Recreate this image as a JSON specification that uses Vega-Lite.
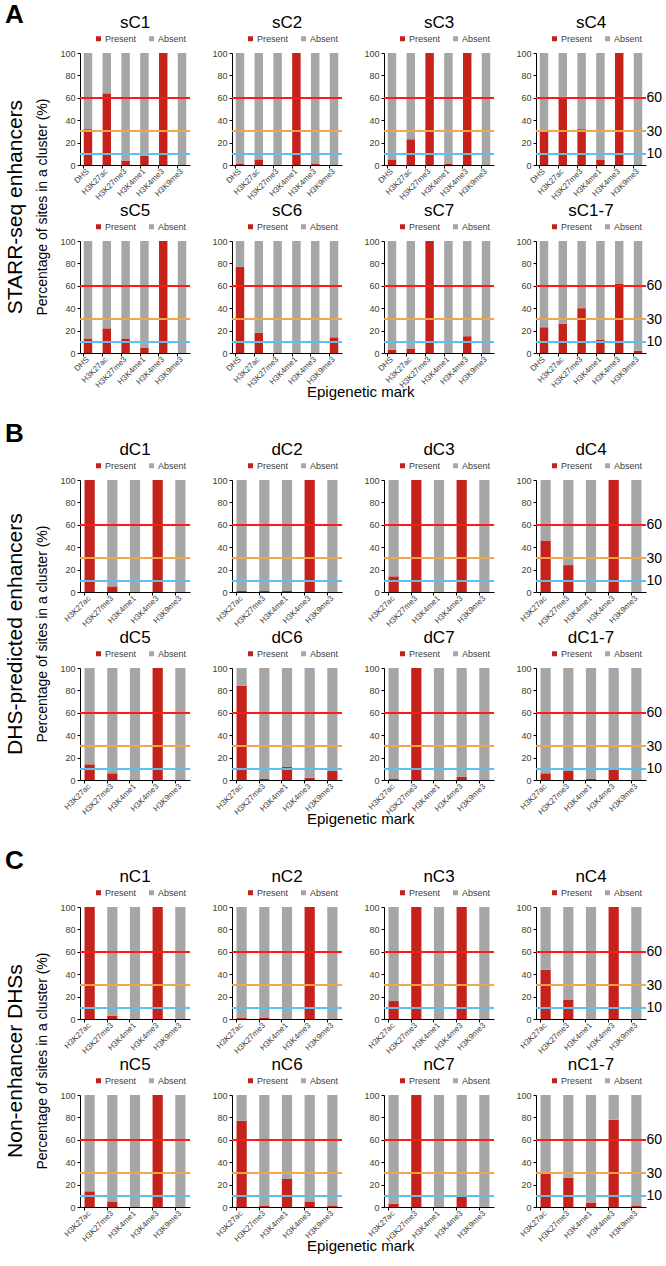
{
"$schema":"https://vega.github.io/schema/vega-lite/v6.json",
"padding":{"left":4,"top":2,"right":0,"bottom":2},
"background":"white",
"config":{
 "font":"Liberation Sans",
 "view":{"stroke":null},
 "axis":{"grid":false,"domainColor":"#000","tickColor":"#000","labelFont":"Liberation Sans","labelColor":"#404040","labelFontSize":9,"tickSize":3,"labelPadding":2,"labelOverlap":false},
 "axisX":{"labelAngle":-45,"labelFontSize":8,"bandPosition":0,"labelAlign":"right","labelBaseline":"middle"},
 "legend":{"symbolType":"square","symbolSize":25,"labelFontSize":9,"labelColor":"#404040","columnPadding":10,"labelOffset":2,"padding":0,"symbolStrokeWidth":0},
 "title":{"font":"Liberation Sans","fontSize":17,"fontWeight":"normal","color":"#000","offset":2,"anchor":"middle"},
 "scale":{"bandPaddingInner":0.55,"bandPaddingOuter":0.2},
 "concat":{"spacing":20}
},
"datasets":{
 "A":[
 {"c":"sC1","m":"DHS","Present":32,"Absent":68},{"c":"sC1","m":"H3K27ac","Present":64,"Absent":36},{"c":"sC1","m":"H3K27me3","Present":4,"Absent":96},{"c":"sC1","m":"H3K4me1","Present":8,"Absent":92},{"c":"sC1","m":"H3K4me3","Present":100,"Absent":0},{"c":"sC1","m":"H3K9me3","Present":0,"Absent":100},
 {"c":"sC2","m":"DHS","Present":1,"Absent":99},{"c":"sC2","m":"H3K27ac","Present":5,"Absent":95},{"c":"sC2","m":"H3K27me3","Present":0,"Absent":100},{"c":"sC2","m":"H3K4me1","Present":100,"Absent":0},{"c":"sC2","m":"H3K4me3","Present":1,"Absent":99},{"c":"sC2","m":"H3K9me3","Present":0,"Absent":100},
 {"c":"sC3","m":"DHS","Present":5,"Absent":95},{"c":"sC3","m":"H3K27ac","Present":23,"Absent":77},{"c":"sC3","m":"H3K27me3","Present":100,"Absent":0},{"c":"sC3","m":"H3K4me1","Present":1,"Absent":99},{"c":"sC3","m":"H3K4me3","Present":100,"Absent":0},{"c":"sC3","m":"H3K9me3","Present":0,"Absent":100},
 {"c":"sC4","m":"DHS","Present":31,"Absent":69},{"c":"sC4","m":"H3K27ac","Present":61,"Absent":39},{"c":"sC4","m":"H3K27me3","Present":32,"Absent":68},{"c":"sC4","m":"H3K4me1","Present":5,"Absent":95},{"c":"sC4","m":"H3K4me3","Present":100,"Absent":0},{"c":"sC4","m":"H3K9me3","Present":0,"Absent":100},
 {"c":"sC5","m":"DHS","Present":13,"Absent":87},{"c":"sC5","m":"H3K27ac","Present":22,"Absent":78},{"c":"sC5","m":"H3K27me3","Present":13,"Absent":87},{"c":"sC5","m":"H3K4me1","Present":5,"Absent":95},{"c":"sC5","m":"H3K4me3","Present":100,"Absent":0},{"c":"sC5","m":"H3K9me3","Present":0,"Absent":100},
 {"c":"sC6","m":"DHS","Present":77,"Absent":23},{"c":"sC6","m":"H3K27ac","Present":18,"Absent":82},{"c":"sC6","m":"H3K27me3","Present":0,"Absent":100},{"c":"sC6","m":"H3K4me1","Present":0,"Absent":100},{"c":"sC6","m":"H3K4me3","Present":0,"Absent":100},{"c":"sC6","m":"H3K9me3","Present":14,"Absent":86},
 {"c":"sC7","m":"DHS","Present":3,"Absent":97},{"c":"sC7","m":"H3K27ac","Present":4,"Absent":96},{"c":"sC7","m":"H3K27me3","Present":100,"Absent":0},{"c":"sC7","m":"H3K4me1","Present":0,"Absent":100},{"c":"sC7","m":"H3K4me3","Present":15,"Absent":85},{"c":"sC7","m":"H3K9me3","Present":0,"Absent":100},
 {"c":"sC1-7","m":"DHS","Present":23,"Absent":77},{"c":"sC1-7","m":"H3K27ac","Present":26,"Absent":74},{"c":"sC1-7","m":"H3K27me3","Present":40,"Absent":60},{"c":"sC1-7","m":"H3K4me1","Present":12,"Absent":88},{"c":"sC1-7","m":"H3K4me3","Present":62,"Absent":38},{"c":"sC1-7","m":"H3K9me3","Present":2,"Absent":98}
 ],
 "B":[
 {"c":"dC1","m":"H3K27ac","Present":100,"Absent":0},{"c":"dC1","m":"H3K27me3","Present":5,"Absent":95},{"c":"dC1","m":"H3K4me1","Present":0,"Absent":100},{"c":"dC1","m":"H3K4me3","Present":100,"Absent":0},{"c":"dC1","m":"H3K9me3","Present":0,"Absent":100},
 {"c":"dC2","m":"H3K27ac","Present":1,"Absent":99},{"c":"dC2","m":"H3K27me3","Present":1,"Absent":99},{"c":"dC2","m":"H3K4me1","Present":1,"Absent":99},{"c":"dC2","m":"H3K4me3","Present":100,"Absent":0},{"c":"dC2","m":"H3K9me3","Present":0,"Absent":100},
 {"c":"dC3","m":"H3K27ac","Present":14,"Absent":86},{"c":"dC3","m":"H3K27me3","Present":100,"Absent":0},{"c":"dC3","m":"H3K4me1","Present":0,"Absent":100},{"c":"dC3","m":"H3K4me3","Present":100,"Absent":0},{"c":"dC3","m":"H3K9me3","Present":0,"Absent":100},
 {"c":"dC4","m":"H3K27ac","Present":46,"Absent":54},{"c":"dC4","m":"H3K27me3","Present":24,"Absent":76},{"c":"dC4","m":"H3K4me1","Present":0,"Absent":100},{"c":"dC4","m":"H3K4me3","Present":100,"Absent":0},{"c":"dC4","m":"H3K9me3","Present":0,"Absent":100},
 {"c":"dC5","m":"H3K27ac","Present":14,"Absent":86},{"c":"dC5","m":"H3K27me3","Present":6,"Absent":94},{"c":"dC5","m":"H3K4me1","Present":0,"Absent":100},{"c":"dC5","m":"H3K4me3","Present":100,"Absent":0},{"c":"dC5","m":"H3K9me3","Present":0,"Absent":100},
 {"c":"dC6","m":"H3K27ac","Present":84,"Absent":16},{"c":"dC6","m":"H3K27me3","Present":1,"Absent":99},{"c":"dC6","m":"H3K4me1","Present":12,"Absent":88},{"c":"dC6","m":"H3K4me3","Present":2,"Absent":98},{"c":"dC6","m":"H3K9me3","Present":8,"Absent":92},
 {"c":"dC7","m":"H3K27ac","Present":1,"Absent":99},{"c":"dC7","m":"H3K27me3","Present":100,"Absent":0},{"c":"dC7","m":"H3K4me1","Present":0,"Absent":100},{"c":"dC7","m":"H3K4me3","Present":3,"Absent":97},{"c":"dC7","m":"H3K9me3","Present":0,"Absent":100},
 {"c":"dC1-7","m":"H3K27ac","Present":6,"Absent":94},{"c":"dC1-7","m":"H3K27me3","Present":8,"Absent":92},{"c":"dC1-7","m":"H3K4me1","Present":1,"Absent":99},{"c":"dC1-7","m":"H3K4me3","Present":9,"Absent":91},{"c":"dC1-7","m":"H3K9me3","Present":0,"Absent":100}
 ],
 "C":[
 {"c":"nC1","m":"H3K27ac","Present":100,"Absent":0},{"c":"nC1","m":"H3K27me3","Present":3,"Absent":97},{"c":"nC1","m":"H3K4me1","Present":0,"Absent":100},{"c":"nC1","m":"H3K4me3","Present":100,"Absent":0},{"c":"nC1","m":"H3K9me3","Present":0,"Absent":100},
 {"c":"nC2","m":"H3K27ac","Present":1,"Absent":99},{"c":"nC2","m":"H3K27me3","Present":1,"Absent":99},{"c":"nC2","m":"H3K4me1","Present":0,"Absent":100},{"c":"nC2","m":"H3K4me3","Present":100,"Absent":0},{"c":"nC2","m":"H3K9me3","Present":0,"Absent":100},
 {"c":"nC3","m":"H3K27ac","Present":16,"Absent":84},{"c":"nC3","m":"H3K27me3","Present":100,"Absent":0},{"c":"nC3","m":"H3K4me1","Present":0,"Absent":100},{"c":"nC3","m":"H3K4me3","Present":100,"Absent":0},{"c":"nC3","m":"H3K9me3","Present":0,"Absent":100},
 {"c":"nC4","m":"H3K27ac","Present":44,"Absent":56},{"c":"nC4","m":"H3K27me3","Present":17,"Absent":83},{"c":"nC4","m":"H3K4me1","Present":0,"Absent":100},{"c":"nC4","m":"H3K4me3","Present":100,"Absent":0},{"c":"nC4","m":"H3K9me3","Present":0,"Absent":100},
 {"c":"nC5","m":"H3K27ac","Present":14,"Absent":86},{"c":"nC5","m":"H3K27me3","Present":5,"Absent":95},{"c":"nC5","m":"H3K4me1","Present":0,"Absent":100},{"c":"nC5","m":"H3K4me3","Present":100,"Absent":0},{"c":"nC5","m":"H3K9me3","Present":0,"Absent":100},
 {"c":"nC6","m":"H3K27ac","Present":77,"Absent":23},{"c":"nC6","m":"H3K27me3","Present":1,"Absent":99},{"c":"nC6","m":"H3K4me1","Present":25,"Absent":75},{"c":"nC6","m":"H3K4me3","Present":5,"Absent":95},{"c":"nC6","m":"H3K9me3","Present":1,"Absent":99},
 {"c":"nC7","m":"H3K27ac","Present":3,"Absent":97},{"c":"nC7","m":"H3K27me3","Present":100,"Absent":0},{"c":"nC7","m":"H3K4me1","Present":0,"Absent":100},{"c":"nC7","m":"H3K4me3","Present":10,"Absent":90},{"c":"nC7","m":"H3K9me3","Present":0,"Absent":100},
 {"c":"nC1-7","m":"H3K27ac","Present":31,"Absent":69},{"c":"nC1-7","m":"H3K27me3","Present":26,"Absent":74},{"c":"nC1-7","m":"H3K4me1","Present":4,"Absent":96},{"c":"nC1-7","m":"H3K4me3","Present":78,"Absent":22},{"c":"nC1-7","m":"H3K9me3","Present":1,"Absent":99}
 ]
},
"vconcat":[
{"title":{"text":"A","orient":"top","anchor":"start","frame":"bounds","fontSize":26,"fontWeight":"bold","offset":-14},
 "resolve":{"scale":{"color":"independent"}},
 "vconcat":[{"title":{"text":"STARR-seq enhancers","orient":"left","anchor":"middle","fontSize":21,"offset":10},
  "resolve":{"scale":{"color":"independent"}},
  "vconcat":[{"title":{"text":"Percentage of sites in a cluster (%)","orient":"left","anchor":"middle","fontSize":14,"offset":10},
   "resolve":{"scale":{"color":"independent"}},
   "vconcat":[{"title":{"text":"Epigenetic mark","orient":"bottom","anchor":"middle","fontSize":15,"offset":-4},
    "resolve":{"scale":{"color":"independent"}},"spacing":0,
    "vconcat":[
     {"resolve":{"scale":{"color":"independent"}},"hconcat":[
      {"title":"sC1","width":110,"height":112,"data":{"name":"A"},"transform":[{"filter":"datum.c==='sC1'"},{"fold":["Present","Absent"],"as":["status","pct"]}],"resolve":{"scale":{"y":"independent"}},"layer":[
       {"mark":{"type":"bar"},"encoding":{"x":{"field":"m","type":"nominal","title":null},"y":{"field":"pct","type":"quantitative","title":null,"scale":{"domain":[0,100]},"axis":{"values":[0,20,40,60,80,100]}},"color":{"field":"status","type":"nominal","sort":["Present","Absent"],"scale":{"domain":["Present","Absent"],"range":["#C4221B","#A6A6A6"]},"title":null,"legend":{"orient":"none","legendX":14,"legendY":-19,"direction":"horizontal"}}}},
       {"mark":{"type":"rule","color":"#FF1A1A","strokeWidth":1.5},"encoding":{"y":{"datum":60,"scale":{"domain":[0,100]},"axis":null}}},
       {"mark":{"type":"rule","color":"#F2A54A","strokeWidth":1.2},"encoding":{"y":{"datum":30,"scale":{"domain":[0,100]},"axis":null}}},
       {"mark":{"type":"rule","color":"#5EC0EC","strokeWidth":1.2},"encoding":{"y":{"datum":10,"scale":{"domain":[0,100]},"axis":null}}}]},
      {"title":"sC2","width":110,"height":112,"data":{"name":"A"},"transform":[{"filter":"datum.c==='sC2'"},{"fold":["Present","Absent"],"as":["status","pct"]}],"resolve":{"scale":{"y":"independent"}},"layer":[
       {"mark":{"type":"bar"},"encoding":{"x":{"field":"m","type":"nominal","title":null},"y":{"field":"pct","type":"quantitative","title":null,"scale":{"domain":[0,100]},"axis":{"values":[0,20,40,60,80,100]}},"color":{"field":"status","type":"nominal","sort":["Present","Absent"],"scale":{"domain":["Present","Absent"],"range":["#C4221B","#A6A6A6"]},"title":null,"legend":{"orient":"none","legendX":14,"legendY":-19,"direction":"horizontal"}}}},
       {"mark":{"type":"rule","color":"#FF1A1A","strokeWidth":1.5},"encoding":{"y":{"datum":60,"scale":{"domain":[0,100]},"axis":null}}},
       {"mark":{"type":"rule","color":"#F2A54A","strokeWidth":1.2},"encoding":{"y":{"datum":30,"scale":{"domain":[0,100]},"axis":null}}},
       {"mark":{"type":"rule","color":"#5EC0EC","strokeWidth":1.2},"encoding":{"y":{"datum":10,"scale":{"domain":[0,100]},"axis":null}}}]},
      {"title":"sC3","width":110,"height":112,"data":{"name":"A"},"transform":[{"filter":"datum.c==='sC3'"},{"fold":["Present","Absent"],"as":["status","pct"]}],"resolve":{"scale":{"y":"independent"}},"layer":[
       {"mark":{"type":"bar"},"encoding":{"x":{"field":"m","type":"nominal","title":null},"y":{"field":"pct","type":"quantitative","title":null,"scale":{"domain":[0,100]},"axis":{"values":[0,20,40,60,80,100]}},"color":{"field":"status","type":"nominal","sort":["Present","Absent"],"scale":{"domain":["Present","Absent"],"range":["#C4221B","#A6A6A6"]},"title":null,"legend":{"orient":"none","legendX":14,"legendY":-19,"direction":"horizontal"}}}},
       {"mark":{"type":"rule","color":"#FF1A1A","strokeWidth":1.5},"encoding":{"y":{"datum":60,"scale":{"domain":[0,100]},"axis":null}}},
       {"mark":{"type":"rule","color":"#F2A54A","strokeWidth":1.2},"encoding":{"y":{"datum":30,"scale":{"domain":[0,100]},"axis":null}}},
       {"mark":{"type":"rule","color":"#5EC0EC","strokeWidth":1.2},"encoding":{"y":{"datum":10,"scale":{"domain":[0,100]},"axis":null}}}]},
      {"title":"sC4","width":110,"height":112,"data":{"name":"A"},"transform":[{"filter":"datum.c==='sC4'"},{"fold":["Present","Absent"],"as":["status","pct"]}],"resolve":{"scale":{"y":"independent"}},"layer":[
       {"mark":{"type":"bar"},"encoding":{"x":{"field":"m","type":"nominal","title":null},"y":{"field":"pct","type":"quantitative","title":null,"scale":{"domain":[0,100]},"axis":{"values":[0,20,40,60,80,100]}},"color":{"field":"status","type":"nominal","sort":["Present","Absent"],"scale":{"domain":["Present","Absent"],"range":["#C4221B","#A6A6A6"]},"title":null,"legend":{"orient":"none","legendX":14,"legendY":-19,"direction":"horizontal"}}}},
       {"mark":{"type":"rule","color":"#FF1A1A","strokeWidth":1.5},"encoding":{"y":{"datum":60,"scale":{"domain":[0,100]},"axis":{"orient":"right","values":[10,30,60],"domain":false,"ticks":false,"labelFontSize":14,"labelColor":"#000","labelPadding":0}}}},
       {"mark":{"type":"rule","color":"#F2A54A","strokeWidth":1.2},"encoding":{"y":{"datum":30,"scale":{"domain":[0,100]},"axis":null}}},
       {"mark":{"type":"rule","color":"#5EC0EC","strokeWidth":1.2},"encoding":{"y":{"datum":10,"scale":{"domain":[0,100]},"axis":null}}}]}
     ]},
     {"resolve":{"scale":{"color":"independent"}},"hconcat":[
      {"title":"sC5","width":110,"height":112,"data":{"name":"A"},"transform":[{"filter":"datum.c==='sC5'"},{"fold":["Present","Absent"],"as":["status","pct"]}],"resolve":{"scale":{"y":"independent"}},"layer":[
       {"mark":{"type":"bar"},"encoding":{"x":{"field":"m","type":"nominal","title":null},"y":{"field":"pct","type":"quantitative","title":null,"scale":{"domain":[0,100]},"axis":{"values":[0,20,40,60,80,100]}},"color":{"field":"status","type":"nominal","sort":["Present","Absent"],"scale":{"domain":["Present","Absent"],"range":["#C4221B","#A6A6A6"]},"title":null,"legend":{"orient":"none","legendX":14,"legendY":-19,"direction":"horizontal"}}}},
       {"mark":{"type":"rule","color":"#FF1A1A","strokeWidth":1.5},"encoding":{"y":{"datum":60,"scale":{"domain":[0,100]},"axis":null}}},
       {"mark":{"type":"rule","color":"#F2A54A","strokeWidth":1.2},"encoding":{"y":{"datum":30,"scale":{"domain":[0,100]},"axis":null}}},
       {"mark":{"type":"rule","color":"#5EC0EC","strokeWidth":1.2},"encoding":{"y":{"datum":10,"scale":{"domain":[0,100]},"axis":null}}}]},
      {"title":"sC6","width":110,"height":112,"data":{"name":"A"},"transform":[{"filter":"datum.c==='sC6'"},{"fold":["Present","Absent"],"as":["status","pct"]}],"resolve":{"scale":{"y":"independent"}},"layer":[
       {"mark":{"type":"bar"},"encoding":{"x":{"field":"m","type":"nominal","title":null},"y":{"field":"pct","type":"quantitative","title":null,"scale":{"domain":[0,100]},"axis":{"values":[0,20,40,60,80,100]}},"color":{"field":"status","type":"nominal","sort":["Present","Absent"],"scale":{"domain":["Present","Absent"],"range":["#C4221B","#A6A6A6"]},"title":null,"legend":{"orient":"none","legendX":14,"legendY":-19,"direction":"horizontal"}}}},
       {"mark":{"type":"rule","color":"#FF1A1A","strokeWidth":1.5},"encoding":{"y":{"datum":60,"scale":{"domain":[0,100]},"axis":null}}},
       {"mark":{"type":"rule","color":"#F2A54A","strokeWidth":1.2},"encoding":{"y":{"datum":30,"scale":{"domain":[0,100]},"axis":null}}},
       {"mark":{"type":"rule","color":"#5EC0EC","strokeWidth":1.2},"encoding":{"y":{"datum":10,"scale":{"domain":[0,100]},"axis":null}}}]},
      {"title":"sC7","width":110,"height":112,"data":{"name":"A"},"transform":[{"filter":"datum.c==='sC7'"},{"fold":["Present","Absent"],"as":["status","pct"]}],"resolve":{"scale":{"y":"independent"}},"layer":[
       {"mark":{"type":"bar"},"encoding":{"x":{"field":"m","type":"nominal","title":null},"y":{"field":"pct","type":"quantitative","title":null,"scale":{"domain":[0,100]},"axis":{"values":[0,20,40,60,80,100]}},"color":{"field":"status","type":"nominal","sort":["Present","Absent"],"scale":{"domain":["Present","Absent"],"range":["#C4221B","#A6A6A6"]},"title":null,"legend":{"orient":"none","legendX":14,"legendY":-19,"direction":"horizontal"}}}},
       {"mark":{"type":"rule","color":"#FF1A1A","strokeWidth":1.5},"encoding":{"y":{"datum":60,"scale":{"domain":[0,100]},"axis":null}}},
       {"mark":{"type":"rule","color":"#F2A54A","strokeWidth":1.2},"encoding":{"y":{"datum":30,"scale":{"domain":[0,100]},"axis":null}}},
       {"mark":{"type":"rule","color":"#5EC0EC","strokeWidth":1.2},"encoding":{"y":{"datum":10,"scale":{"domain":[0,100]},"axis":null}}}]},
      {"title":"sC1-7","width":110,"height":112,"data":{"name":"A"},"transform":[{"filter":"datum.c==='sC1-7'"},{"fold":["Present","Absent"],"as":["status","pct"]}],"resolve":{"scale":{"y":"independent"}},"layer":[
       {"mark":{"type":"bar"},"encoding":{"x":{"field":"m","type":"nominal","title":null},"y":{"field":"pct","type":"quantitative","title":null,"scale":{"domain":[0,100]},"axis":{"values":[0,20,40,60,80,100]}},"color":{"field":"status","type":"nominal","sort":["Present","Absent"],"scale":{"domain":["Present","Absent"],"range":["#C4221B","#A6A6A6"]},"title":null,"legend":{"orient":"none","legendX":14,"legendY":-19,"direction":"horizontal"}}}},
       {"mark":{"type":"rule","color":"#FF1A1A","strokeWidth":1.5},"encoding":{"y":{"datum":60,"scale":{"domain":[0,100]},"axis":{"orient":"right","values":[10,30,60],"domain":false,"ticks":false,"labelFontSize":14,"labelColor":"#000","labelPadding":0}}}},
       {"mark":{"type":"rule","color":"#F2A54A","strokeWidth":1.2},"encoding":{"y":{"datum":30,"scale":{"domain":[0,100]},"axis":null}}},
       {"mark":{"type":"rule","color":"#5EC0EC","strokeWidth":1.2},"encoding":{"y":{"datum":10,"scale":{"domain":[0,100]},"axis":null}}}]}
     ]}
    ]}]}]}]},
{"title":{"text":"B","orient":"top","anchor":"start","frame":"bounds","fontSize":26,"fontWeight":"bold","offset":-6},
 "resolve":{"scale":{"color":"independent"}},
 "vconcat":[{"title":{"text":"DHS-predicted enhancers","orient":"left","anchor":"middle","fontSize":21,"offset":10},
  "resolve":{"scale":{"color":"independent"}},
  "vconcat":[{"title":{"text":"Percentage of sites in a cluster (%)","orient":"left","anchor":"middle","fontSize":14,"offset":10},
   "resolve":{"scale":{"color":"independent"}},
   "vconcat":[{"title":{"text":"Epigenetic mark","orient":"bottom","anchor":"middle","fontSize":15,"offset":-4},
    "resolve":{"scale":{"color":"independent"}},"spacing":0,
    "vconcat":[
     {"resolve":{"scale":{"color":"independent"}},"hconcat":[
      {"title":"dC1","width":110,"height":112,"data":{"name":"B"},"transform":[{"filter":"datum.c==='dC1'"},{"fold":["Present","Absent"],"as":["status","pct"]}],"resolve":{"scale":{"y":"independent"}},"layer":[
       {"mark":{"type":"bar"},"encoding":{"x":{"field":"m","type":"nominal","title":null},"y":{"field":"pct","type":"quantitative","title":null,"scale":{"domain":[0,100]},"axis":{"values":[0,20,40,60,80,100]}},"color":{"field":"status","type":"nominal","sort":["Present","Absent"],"scale":{"domain":["Present","Absent"],"range":["#C4221B","#A6A6A6"]},"title":null,"legend":{"orient":"none","legendX":14,"legendY":-19,"direction":"horizontal"}}}},
       {"mark":{"type":"rule","color":"#FF1A1A","strokeWidth":1.5},"encoding":{"y":{"datum":60,"scale":{"domain":[0,100]},"axis":null}}},
       {"mark":{"type":"rule","color":"#F2A54A","strokeWidth":1.2},"encoding":{"y":{"datum":30,"scale":{"domain":[0,100]},"axis":null}}},
       {"mark":{"type":"rule","color":"#5EC0EC","strokeWidth":1.2},"encoding":{"y":{"datum":10,"scale":{"domain":[0,100]},"axis":null}}}]},
      {"title":"dC2","width":110,"height":112,"data":{"name":"B"},"transform":[{"filter":"datum.c==='dC2'"},{"fold":["Present","Absent"],"as":["status","pct"]}],"resolve":{"scale":{"y":"independent"}},"layer":[
       {"mark":{"type":"bar"},"encoding":{"x":{"field":"m","type":"nominal","title":null},"y":{"field":"pct","type":"quantitative","title":null,"scale":{"domain":[0,100]},"axis":{"values":[0,20,40,60,80,100]}},"color":{"field":"status","type":"nominal","sort":["Present","Absent"],"scale":{"domain":["Present","Absent"],"range":["#C4221B","#A6A6A6"]},"title":null,"legend":{"orient":"none","legendX":14,"legendY":-19,"direction":"horizontal"}}}},
       {"mark":{"type":"rule","color":"#FF1A1A","strokeWidth":1.5},"encoding":{"y":{"datum":60,"scale":{"domain":[0,100]},"axis":null}}},
       {"mark":{"type":"rule","color":"#F2A54A","strokeWidth":1.2},"encoding":{"y":{"datum":30,"scale":{"domain":[0,100]},"axis":null}}},
       {"mark":{"type":"rule","color":"#5EC0EC","strokeWidth":1.2},"encoding":{"y":{"datum":10,"scale":{"domain":[0,100]},"axis":null}}}]},
      {"title":"dC3","width":110,"height":112,"data":{"name":"B"},"transform":[{"filter":"datum.c==='dC3'"},{"fold":["Present","Absent"],"as":["status","pct"]}],"resolve":{"scale":{"y":"independent"}},"layer":[
       {"mark":{"type":"bar"},"encoding":{"x":{"field":"m","type":"nominal","title":null},"y":{"field":"pct","type":"quantitative","title":null,"scale":{"domain":[0,100]},"axis":{"values":[0,20,40,60,80,100]}},"color":{"field":"status","type":"nominal","sort":["Present","Absent"],"scale":{"domain":["Present","Absent"],"range":["#C4221B","#A6A6A6"]},"title":null,"legend":{"orient":"none","legendX":14,"legendY":-19,"direction":"horizontal"}}}},
       {"mark":{"type":"rule","color":"#FF1A1A","strokeWidth":1.5},"encoding":{"y":{"datum":60,"scale":{"domain":[0,100]},"axis":null}}},
       {"mark":{"type":"rule","color":"#F2A54A","strokeWidth":1.2},"encoding":{"y":{"datum":30,"scale":{"domain":[0,100]},"axis":null}}},
       {"mark":{"type":"rule","color":"#5EC0EC","strokeWidth":1.2},"encoding":{"y":{"datum":10,"scale":{"domain":[0,100]},"axis":null}}}]},
      {"title":"dC4","width":110,"height":112,"data":{"name":"B"},"transform":[{"filter":"datum.c==='dC4'"},{"fold":["Present","Absent"],"as":["status","pct"]}],"resolve":{"scale":{"y":"independent"}},"layer":[
       {"mark":{"type":"bar"},"encoding":{"x":{"field":"m","type":"nominal","title":null},"y":{"field":"pct","type":"quantitative","title":null,"scale":{"domain":[0,100]},"axis":{"values":[0,20,40,60,80,100]}},"color":{"field":"status","type":"nominal","sort":["Present","Absent"],"scale":{"domain":["Present","Absent"],"range":["#C4221B","#A6A6A6"]},"title":null,"legend":{"orient":"none","legendX":14,"legendY":-19,"direction":"horizontal"}}}},
       {"mark":{"type":"rule","color":"#FF1A1A","strokeWidth":1.5},"encoding":{"y":{"datum":60,"scale":{"domain":[0,100]},"axis":{"orient":"right","values":[10,30,60],"domain":false,"ticks":false,"labelFontSize":14,"labelColor":"#000","labelPadding":0}}}},
       {"mark":{"type":"rule","color":"#F2A54A","strokeWidth":1.2},"encoding":{"y":{"datum":30,"scale":{"domain":[0,100]},"axis":null}}},
       {"mark":{"type":"rule","color":"#5EC0EC","strokeWidth":1.2},"encoding":{"y":{"datum":10,"scale":{"domain":[0,100]},"axis":null}}}]}
     ]},
     {"resolve":{"scale":{"color":"independent"}},"hconcat":[
      {"title":"dC5","width":110,"height":112,"data":{"name":"B"},"transform":[{"filter":"datum.c==='dC5'"},{"fold":["Present","Absent"],"as":["status","pct"]}],"resolve":{"scale":{"y":"independent"}},"layer":[
       {"mark":{"type":"bar"},"encoding":{"x":{"field":"m","type":"nominal","title":null},"y":{"field":"pct","type":"quantitative","title":null,"scale":{"domain":[0,100]},"axis":{"values":[0,20,40,60,80,100]}},"color":{"field":"status","type":"nominal","sort":["Present","Absent"],"scale":{"domain":["Present","Absent"],"range":["#C4221B","#A6A6A6"]},"title":null,"legend":{"orient":"none","legendX":14,"legendY":-19,"direction":"horizontal"}}}},
       {"mark":{"type":"rule","color":"#FF1A1A","strokeWidth":1.5},"encoding":{"y":{"datum":60,"scale":{"domain":[0,100]},"axis":null}}},
       {"mark":{"type":"rule","color":"#F2A54A","strokeWidth":1.2},"encoding":{"y":{"datum":30,"scale":{"domain":[0,100]},"axis":null}}},
       {"mark":{"type":"rule","color":"#5EC0EC","strokeWidth":1.2},"encoding":{"y":{"datum":10,"scale":{"domain":[0,100]},"axis":null}}}]},
      {"title":"dC6","width":110,"height":112,"data":{"name":"B"},"transform":[{"filter":"datum.c==='dC6'"},{"fold":["Present","Absent"],"as":["status","pct"]}],"resolve":{"scale":{"y":"independent"}},"layer":[
       {"mark":{"type":"bar"},"encoding":{"x":{"field":"m","type":"nominal","title":null},"y":{"field":"pct","type":"quantitative","title":null,"scale":{"domain":[0,100]},"axis":{"values":[0,20,40,60,80,100]}},"color":{"field":"status","type":"nominal","sort":["Present","Absent"],"scale":{"domain":["Present","Absent"],"range":["#C4221B","#A6A6A6"]},"title":null,"legend":{"orient":"none","legendX":14,"legendY":-19,"direction":"horizontal"}}}},
       {"mark":{"type":"rule","color":"#FF1A1A","strokeWidth":1.5},"encoding":{"y":{"datum":60,"scale":{"domain":[0,100]},"axis":null}}},
       {"mark":{"type":"rule","color":"#F2A54A","strokeWidth":1.2},"encoding":{"y":{"datum":30,"scale":{"domain":[0,100]},"axis":null}}},
       {"mark":{"type":"rule","color":"#5EC0EC","strokeWidth":1.2},"encoding":{"y":{"datum":10,"scale":{"domain":[0,100]},"axis":null}}}]},
      {"title":"dC7","width":110,"height":112,"data":{"name":"B"},"transform":[{"filter":"datum.c==='dC7'"},{"fold":["Present","Absent"],"as":["status","pct"]}],"resolve":{"scale":{"y":"independent"}},"layer":[
       {"mark":{"type":"bar"},"encoding":{"x":{"field":"m","type":"nominal","title":null},"y":{"field":"pct","type":"quantitative","title":null,"scale":{"domain":[0,100]},"axis":{"values":[0,20,40,60,80,100]}},"color":{"field":"status","type":"nominal","sort":["Present","Absent"],"scale":{"domain":["Present","Absent"],"range":["#C4221B","#A6A6A6"]},"title":null,"legend":{"orient":"none","legendX":14,"legendY":-19,"direction":"horizontal"}}}},
       {"mark":{"type":"rule","color":"#FF1A1A","strokeWidth":1.5},"encoding":{"y":{"datum":60,"scale":{"domain":[0,100]},"axis":null}}},
       {"mark":{"type":"rule","color":"#F2A54A","strokeWidth":1.2},"encoding":{"y":{"datum":30,"scale":{"domain":[0,100]},"axis":null}}},
       {"mark":{"type":"rule","color":"#5EC0EC","strokeWidth":1.2},"encoding":{"y":{"datum":10,"scale":{"domain":[0,100]},"axis":null}}}]},
      {"title":"dC1-7","width":110,"height":112,"data":{"name":"B"},"transform":[{"filter":"datum.c==='dC1-7'"},{"fold":["Present","Absent"],"as":["status","pct"]}],"resolve":{"scale":{"y":"independent"}},"layer":[
       {"mark":{"type":"bar"},"encoding":{"x":{"field":"m","type":"nominal","title":null},"y":{"field":"pct","type":"quantitative","title":null,"scale":{"domain":[0,100]},"axis":{"values":[0,20,40,60,80,100]}},"color":{"field":"status","type":"nominal","sort":["Present","Absent"],"scale":{"domain":["Present","Absent"],"range":["#C4221B","#A6A6A6"]},"title":null,"legend":{"orient":"none","legendX":14,"legendY":-19,"direction":"horizontal"}}}},
       {"mark":{"type":"rule","color":"#FF1A1A","strokeWidth":1.5},"encoding":{"y":{"datum":60,"scale":{"domain":[0,100]},"axis":{"orient":"right","values":[10,30,60],"domain":false,"ticks":false,"labelFontSize":14,"labelColor":"#000","labelPadding":0}}}},
       {"mark":{"type":"rule","color":"#F2A54A","strokeWidth":1.2},"encoding":{"y":{"datum":30,"scale":{"domain":[0,100]},"axis":null}}},
       {"mark":{"type":"rule","color":"#5EC0EC","strokeWidth":1.2},"encoding":{"y":{"datum":10,"scale":{"domain":[0,100]},"axis":null}}}]}
     ]}
    ]}]}]}]},
{"title":{"text":"C","orient":"top","anchor":"start","frame":"bounds","fontSize":26,"fontWeight":"bold","offset":-6},
 "resolve":{"scale":{"color":"independent"}},
 "vconcat":[{"title":{"text":"Non-enhancer DHSs","orient":"left","anchor":"middle","fontSize":21,"offset":10},
  "resolve":{"scale":{"color":"independent"}},
  "vconcat":[{"title":{"text":"Percentage of sites in a cluster (%)","orient":"left","anchor":"middle","fontSize":14,"offset":10},
   "resolve":{"scale":{"color":"independent"}},
   "vconcat":[{"title":{"text":"Epigenetic mark","orient":"bottom","anchor":"middle","fontSize":15,"offset":-4},
    "resolve":{"scale":{"color":"independent"}},"spacing":0,
    "vconcat":[
     {"resolve":{"scale":{"color":"independent"}},"hconcat":[
      {"title":"nC1","width":110,"height":112,"data":{"name":"C"},"transform":[{"filter":"datum.c==='nC1'"},{"fold":["Present","Absent"],"as":["status","pct"]}],"resolve":{"scale":{"y":"independent"}},"layer":[
       {"mark":{"type":"bar"},"encoding":{"x":{"field":"m","type":"nominal","title":null},"y":{"field":"pct","type":"quantitative","title":null,"scale":{"domain":[0,100]},"axis":{"values":[0,20,40,60,80,100]}},"color":{"field":"status","type":"nominal","sort":["Present","Absent"],"scale":{"domain":["Present","Absent"],"range":["#C4221B","#A6A6A6"]},"title":null,"legend":{"orient":"none","legendX":14,"legendY":-19,"direction":"horizontal"}}}},
       {"mark":{"type":"rule","color":"#FF1A1A","strokeWidth":1.5},"encoding":{"y":{"datum":60,"scale":{"domain":[0,100]},"axis":null}}},
       {"mark":{"type":"rule","color":"#F2A54A","strokeWidth":1.2},"encoding":{"y":{"datum":30,"scale":{"domain":[0,100]},"axis":null}}},
       {"mark":{"type":"rule","color":"#5EC0EC","strokeWidth":1.2},"encoding":{"y":{"datum":10,"scale":{"domain":[0,100]},"axis":null}}}]},
      {"title":"nC2","width":110,"height":112,"data":{"name":"C"},"transform":[{"filter":"datum.c==='nC2'"},{"fold":["Present","Absent"],"as":["status","pct"]}],"resolve":{"scale":{"y":"independent"}},"layer":[
       {"mark":{"type":"bar"},"encoding":{"x":{"field":"m","type":"nominal","title":null},"y":{"field":"pct","type":"quantitative","title":null,"scale":{"domain":[0,100]},"axis":{"values":[0,20,40,60,80,100]}},"color":{"field":"status","type":"nominal","sort":["Present","Absent"],"scale":{"domain":["Present","Absent"],"range":["#C4221B","#A6A6A6"]},"title":null,"legend":{"orient":"none","legendX":14,"legendY":-19,"direction":"horizontal"}}}},
       {"mark":{"type":"rule","color":"#FF1A1A","strokeWidth":1.5},"encoding":{"y":{"datum":60,"scale":{"domain":[0,100]},"axis":null}}},
       {"mark":{"type":"rule","color":"#F2A54A","strokeWidth":1.2},"encoding":{"y":{"datum":30,"scale":{"domain":[0,100]},"axis":null}}},
       {"mark":{"type":"rule","color":"#5EC0EC","strokeWidth":1.2},"encoding":{"y":{"datum":10,"scale":{"domain":[0,100]},"axis":null}}}]},
      {"title":"nC3","width":110,"height":112,"data":{"name":"C"},"transform":[{"filter":"datum.c==='nC3'"},{"fold":["Present","Absent"],"as":["status","pct"]}],"resolve":{"scale":{"y":"independent"}},"layer":[
       {"mark":{"type":"bar"},"encoding":{"x":{"field":"m","type":"nominal","title":null},"y":{"field":"pct","type":"quantitative","title":null,"scale":{"domain":[0,100]},"axis":{"values":[0,20,40,60,80,100]}},"color":{"field":"status","type":"nominal","sort":["Present","Absent"],"scale":{"domain":["Present","Absent"],"range":["#C4221B","#A6A6A6"]},"title":null,"legend":{"orient":"none","legendX":14,"legendY":-19,"direction":"horizontal"}}}},
       {"mark":{"type":"rule","color":"#FF1A1A","strokeWidth":1.5},"encoding":{"y":{"datum":60,"scale":{"domain":[0,100]},"axis":null}}},
       {"mark":{"type":"rule","color":"#F2A54A","strokeWidth":1.2},"encoding":{"y":{"datum":30,"scale":{"domain":[0,100]},"axis":null}}},
       {"mark":{"type":"rule","color":"#5EC0EC","strokeWidth":1.2},"encoding":{"y":{"datum":10,"scale":{"domain":[0,100]},"axis":null}}}]},
      {"title":"nC4","width":110,"height":112,"data":{"name":"C"},"transform":[{"filter":"datum.c==='nC4'"},{"fold":["Present","Absent"],"as":["status","pct"]}],"resolve":{"scale":{"y":"independent"}},"layer":[
       {"mark":{"type":"bar"},"encoding":{"x":{"field":"m","type":"nominal","title":null},"y":{"field":"pct","type":"quantitative","title":null,"scale":{"domain":[0,100]},"axis":{"values":[0,20,40,60,80,100]}},"color":{"field":"status","type":"nominal","sort":["Present","Absent"],"scale":{"domain":["Present","Absent"],"range":["#C4221B","#A6A6A6"]},"title":null,"legend":{"orient":"none","legendX":14,"legendY":-19,"direction":"horizontal"}}}},
       {"mark":{"type":"rule","color":"#FF1A1A","strokeWidth":1.5},"encoding":{"y":{"datum":60,"scale":{"domain":[0,100]},"axis":{"orient":"right","values":[10,30,60],"domain":false,"ticks":false,"labelFontSize":14,"labelColor":"#000","labelPadding":0}}}},
       {"mark":{"type":"rule","color":"#F2A54A","strokeWidth":1.2},"encoding":{"y":{"datum":30,"scale":{"domain":[0,100]},"axis":null}}},
       {"mark":{"type":"rule","color":"#5EC0EC","strokeWidth":1.2},"encoding":{"y":{"datum":10,"scale":{"domain":[0,100]},"axis":null}}}]}
     ]},
     {"resolve":{"scale":{"color":"independent"}},"hconcat":[
      {"title":"nC5","width":110,"height":112,"data":{"name":"C"},"transform":[{"filter":"datum.c==='nC5'"},{"fold":["Present","Absent"],"as":["status","pct"]}],"resolve":{"scale":{"y":"independent"}},"layer":[
       {"mark":{"type":"bar"},"encoding":{"x":{"field":"m","type":"nominal","title":null},"y":{"field":"pct","type":"quantitative","title":null,"scale":{"domain":[0,100]},"axis":{"values":[0,20,40,60,80,100]}},"color":{"field":"status","type":"nominal","sort":["Present","Absent"],"scale":{"domain":["Present","Absent"],"range":["#C4221B","#A6A6A6"]},"title":null,"legend":{"orient":"none","legendX":14,"legendY":-19,"direction":"horizontal"}}}},
       {"mark":{"type":"rule","color":"#FF1A1A","strokeWidth":1.5},"encoding":{"y":{"datum":60,"scale":{"domain":[0,100]},"axis":null}}},
       {"mark":{"type":"rule","color":"#F2A54A","strokeWidth":1.2},"encoding":{"y":{"datum":30,"scale":{"domain":[0,100]},"axis":null}}},
       {"mark":{"type":"rule","color":"#5EC0EC","strokeWidth":1.2},"encoding":{"y":{"datum":10,"scale":{"domain":[0,100]},"axis":null}}}]},
      {"title":"nC6","width":110,"height":112,"data":{"name":"C"},"transform":[{"filter":"datum.c==='nC6'"},{"fold":["Present","Absent"],"as":["status","pct"]}],"resolve":{"scale":{"y":"independent"}},"layer":[
       {"mark":{"type":"bar"},"encoding":{"x":{"field":"m","type":"nominal","title":null},"y":{"field":"pct","type":"quantitative","title":null,"scale":{"domain":[0,100]},"axis":{"values":[0,20,40,60,80,100]}},"color":{"field":"status","type":"nominal","sort":["Present","Absent"],"scale":{"domain":["Present","Absent"],"range":["#C4221B","#A6A6A6"]},"title":null,"legend":{"orient":"none","legendX":14,"legendY":-19,"direction":"horizontal"}}}},
       {"mark":{"type":"rule","color":"#FF1A1A","strokeWidth":1.5},"encoding":{"y":{"datum":60,"scale":{"domain":[0,100]},"axis":null}}},
       {"mark":{"type":"rule","color":"#F2A54A","strokeWidth":1.2},"encoding":{"y":{"datum":30,"scale":{"domain":[0,100]},"axis":null}}},
       {"mark":{"type":"rule","color":"#5EC0EC","strokeWidth":1.2},"encoding":{"y":{"datum":10,"scale":{"domain":[0,100]},"axis":null}}}]},
      {"title":"nC7","width":110,"height":112,"data":{"name":"C"},"transform":[{"filter":"datum.c==='nC7'"},{"fold":["Present","Absent"],"as":["status","pct"]}],"resolve":{"scale":{"y":"independent"}},"layer":[
       {"mark":{"type":"bar"},"encoding":{"x":{"field":"m","type":"nominal","title":null},"y":{"field":"pct","type":"quantitative","title":null,"scale":{"domain":[0,100]},"axis":{"values":[0,20,40,60,80,100]}},"color":{"field":"status","type":"nominal","sort":["Present","Absent"],"scale":{"domain":["Present","Absent"],"range":["#C4221B","#A6A6A6"]},"title":null,"legend":{"orient":"none","legendX":14,"legendY":-19,"direction":"horizontal"}}}},
       {"mark":{"type":"rule","color":"#FF1A1A","strokeWidth":1.5},"encoding":{"y":{"datum":60,"scale":{"domain":[0,100]},"axis":null}}},
       {"mark":{"type":"rule","color":"#F2A54A","strokeWidth":1.2},"encoding":{"y":{"datum":30,"scale":{"domain":[0,100]},"axis":null}}},
       {"mark":{"type":"rule","color":"#5EC0EC","strokeWidth":1.2},"encoding":{"y":{"datum":10,"scale":{"domain":[0,100]},"axis":null}}}]},
      {"title":"nC1-7","width":110,"height":112,"data":{"name":"C"},"transform":[{"filter":"datum.c==='nC1-7'"},{"fold":["Present","Absent"],"as":["status","pct"]}],"resolve":{"scale":{"y":"independent"}},"layer":[
       {"mark":{"type":"bar"},"encoding":{"x":{"field":"m","type":"nominal","title":null},"y":{"field":"pct","type":"quantitative","title":null,"scale":{"domain":[0,100]},"axis":{"values":[0,20,40,60,80,100]}},"color":{"field":"status","type":"nominal","sort":["Present","Absent"],"scale":{"domain":["Present","Absent"],"range":["#C4221B","#A6A6A6"]},"title":null,"legend":{"orient":"none","legendX":14,"legendY":-19,"direction":"horizontal"}}}},
       {"mark":{"type":"rule","color":"#FF1A1A","strokeWidth":1.5},"encoding":{"y":{"datum":60,"scale":{"domain":[0,100]},"axis":{"orient":"right","values":[10,30,60],"domain":false,"ticks":false,"labelFontSize":14,"labelColor":"#000","labelPadding":0}}}},
       {"mark":{"type":"rule","color":"#F2A54A","strokeWidth":1.2},"encoding":{"y":{"datum":30,"scale":{"domain":[0,100]},"axis":null}}},
       {"mark":{"type":"rule","color":"#5EC0EC","strokeWidth":1.2},"encoding":{"y":{"datum":10,"scale":{"domain":[0,100]},"axis":null}}}]}
     ]}
    ]}]}]}]}
],
"spacing":20
}
